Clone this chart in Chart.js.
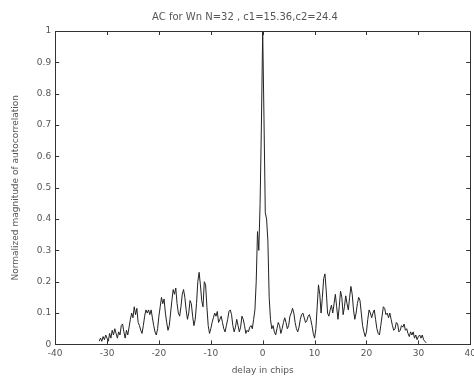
<!DOCTYPE html>
<html>
<head>
<meta charset="utf-8">
<script src="https://cdn.jsdelivr.net/npm/chart.js@4/dist/chart.umd.min.js"></script>
<style>
  html, body { margin: 0; padding: 0; background: #fff; overflow: hidden; }
  #wrap { width: 480px; height: 378px; position: relative; }
</style>
</head>
<body>
<div id="wrap"><canvas id="acCanvas"></canvas></div>
<script>
// sampling grid of the delay axis (chips)
const delayStart = -31.5;
const delayStep = 0.25;

// normalized autocorrelation magnitude (4 samples per chip)
const acValues = [
  0.01, 0.02, 0.01, 0.025,      // -31.5
  0.015, 0.03, 0.02, 0.01,      // -30.5
  0.035, 0.02, 0.045, 0.03,     // -29.5
  0.05, 0.035, 0.02, 0.04,      // -28.5
  0.03, 0.06, 0.065, 0.04,      // -27.5
  0.02, 0.045, 0.03, 0.055,     // -26.5
  0.08, 0.1, 0.085, 0.12,       // -25.5
  0.095, 0.115, 0.07, 0.06,     // -24.5
  0.045, 0.035, 0.06, 0.09,     // -23.5
  0.11, 0.1, 0.11, 0.095,       // -22.5
  0.11, 0.085, 0.06, 0.04,      // -21.5
  0.03, 0.05, 0.09, 0.12,       // -20.5
  0.15, 0.13, 0.145, 0.1,       // -19.5
  0.07, 0.045, 0.06, 0.1,       // -18.5
  0.14, 0.175, 0.16, 0.18,      // -17.5
  0.13, 0.1, 0.09, 0.12,        // -16.5
  0.16, 0.175, 0.15, 0.11,      // -15.5
  0.08, 0.1, 0.14, 0.13,        // -14.5
  0.09, 0.06, 0.08, 0.13,       // -13.5
  0.2, 0.23, 0.19, 0.14,        // -12.5
  0.12, 0.2, 0.19, 0.12,        // -11.5
  0.06, 0.035, 0.05, 0.07,      // -10.5
  0.085, 0.1, 0.09, 0.105,      // -9.5
  0.07, 0.08, 0.09, 0.07,       // -8.5
  0.05, 0.04, 0.06, 0.08,       // -7.5
  0.105, 0.11, 0.095, 0.06,     // -6.5
  0.04, 0.055, 0.08, 0.06,      // -5.5
  0.04, 0.055, 0.09, 0.08,      // -4.5
  0.06, 0.035, 0.045, 0.04,     // -3.5
  0.055, 0.06, 0.05, 0.08,      // -2.5
  0.11, 0.2, 0.36, 0.3,         // -1.5
  0.45, 0.7, 1, 0.72,           // -0.5
  0.42, 0.4, 0.33, 0.15,        // 0.5
  0.08, 0.05, 0.06, 0.04,       // 1.5
  0.03, 0.05, 0.07, 0.06,       // 2.5
  0.035, 0.05, 0.07, 0.085,     // 3.5
  0.07, 0.05, 0.06, 0.09,       // 4.5
  0.1, 0.115, 0.1, 0.07,        // 5.5
  0.05, 0.04, 0.055, 0.08,      // 6.5
  0.095, 0.1, 0.085, 0.07,      // 7.5
  0.075, 0.09, 0.095, 0.08,     // 8.5
  0.06, 0.035, 0.02, 0.05,      // 9.5
  0.12, 0.19, 0.16, 0.1,        // 10.5
  0.15, 0.21, 0.225, 0.17,      // 11.5
  0.1, 0.09, 0.11, 0.125,       // 12.5
  0.1, 0.13, 0.16, 0.12,        // 13.5
  0.08, 0.12, 0.17, 0.15,       // 14.5
  0.095, 0.12, 0.155, 0.13,     // 15.5
  0.11, 0.15, 0.185, 0.16,      // 16.5
  0.11, 0.08, 0.1, 0.13,        // 17.5
  0.15, 0.14, 0.1, 0.06,        // 18.5
  0.04, 0.025, 0.04, 0.08,      // 19.5
  0.11, 0.1, 0.085, 0.1,        // 20.5
  0.11, 0.08, 0.05, 0.035,      // 21.5
  0.03, 0.06, 0.09, 0.12,       // 22.5
  0.115, 0.095, 0.1, 0.085,     // 23.5
  0.1, 0.08, 0.06, 0.045,       // 24.5
  0.05, 0.07, 0.065, 0.04,      // 25.5
  0.045, 0.06, 0.055, 0.065,    // 26.5
  0.045, 0.05, 0.035, 0.025,    // 27.5
  0.04, 0.03, 0.04, 0.02,       // 28.5
  0.03, 0.015, 0.025, 0.03,     // 29.5
  0.02, 0.03, 0.015, 0.01,      // 30.5
  0.005                         // 31.5
];

const xTicks = [-40, -30, -20, -10, 0, 10, 20, 30, 40];
const yTicks = [0, 0.1, 0.2, 0.3, 0.4, 0.5, 0.6, 0.7, 0.8, 0.9, 1];

const titleText = 'AC for Wn N=32 , c1=15.36,c2=24.4';
const xLabel = 'delay in chips';
const yLabel = 'Normalized magnitude of autocorrelation';

const points = acValues.map((v, i) => ({ x: delayStart + i * delayStep, y: v }));

const inkColor = '#333';
const textColor = '#555';
const fontFamily = 'DejaVu Sans, Verdana, sans-serif';

// matlab style frame: box all round, ticks pointing inward on all four sides
const boxTicks = {
  id: 'boxTicks',
  afterDraw(chart) {
    const { ctx, chartArea: a, scales } = chart;
    const len = 4;
    ctx.save();
    ctx.strokeStyle = inkColor;
    ctx.lineWidth = 1;
    ctx.strokeRect(Math.round(a.left) + 0.5, Math.round(a.top) + 0.5,
      Math.round(a.right - a.left), Math.round(a.bottom - a.top));
    ctx.beginPath();
    xTicks.forEach(t => {
      const px = Math.round(scales.x.getPixelForValue(t)) + 0.5;
      ctx.moveTo(px, a.bottom); ctx.lineTo(px, a.bottom - len);
      ctx.moveTo(px, a.top); ctx.lineTo(px, a.top + len);
    });
    yTicks.forEach(t => {
      const py = Math.round(scales.y.getPixelForValue(t)) + 0.5;
      ctx.moveTo(a.left, py); ctx.lineTo(a.left + len, py);
      ctx.moveTo(a.right, py); ctx.lineTo(a.right - len, py);
    });
    ctx.stroke();
    ctx.restore();
  }
};

const ctx = document.getElementById('acCanvas').getContext('2d');
new Chart(ctx, {
  type: 'line',
  data: {
    datasets: [{
      data: points,
      borderColor: '#222',
      borderWidth: 1,
      pointRadius: 0,
      tension: 0,
      fill: false
    }]
  },
  options: {
    responsive: true,
    maintainAspectRatio: false,
    animation: false,
    layout: { padding: { top: 4, left: 10, right: 0, bottom: 2 } },
    plugins: {
      legend: { display: false },
      tooltip: { enabled: false },
      title: {
        display: true,
        text: titleText,
        color: textColor,
        font: { family: fontFamily, size: 10, weight: 'normal' },
        padding: { top: 7, bottom: 8 }
      }
    },
    scales: {
      x: {
        type: 'linear',
        min: -40,
        max: 40,
        afterBuildTicks: s => { s.ticks = xTicks.map(v => ({ value: v })); },
        grid: { display: true, drawOnChartArea: false, drawTicks: false },
        border: { display: false },
        ticks: {
          color: textColor,
          padding: 4,
          maxRotation: 0,
          font: { family: fontFamily, size: 9 },
          callback: v => String(v)
        },
        title: {
          display: true,
          text: xLabel,
          color: textColor,
          padding: { top: 2, bottom: 0 },
          font: { family: fontFamily, size: 9 }
        }
      },
      y: {
        type: 'linear',
        min: 0,
        max: 1,
        afterBuildTicks: s => { s.ticks = yTicks.map(v => ({ value: v })); },
        grid: { display: true, drawOnChartArea: false, drawTicks: false },
        border: { display: false },
        ticks: {
          color: textColor,
          padding: 4,
          font: { family: fontFamily, size: 9 },
          callback: v => String(Math.round(v * 10) / 10)
        },
        title: {
          display: true,
          text: yLabel,
          color: textColor,
          padding: { top: 0, bottom: 12 },
          font: { family: fontFamily, size: 9 }
        }
      }
    }
  },
  plugins: [boxTicks]
});
</script>
</body>
</html>
